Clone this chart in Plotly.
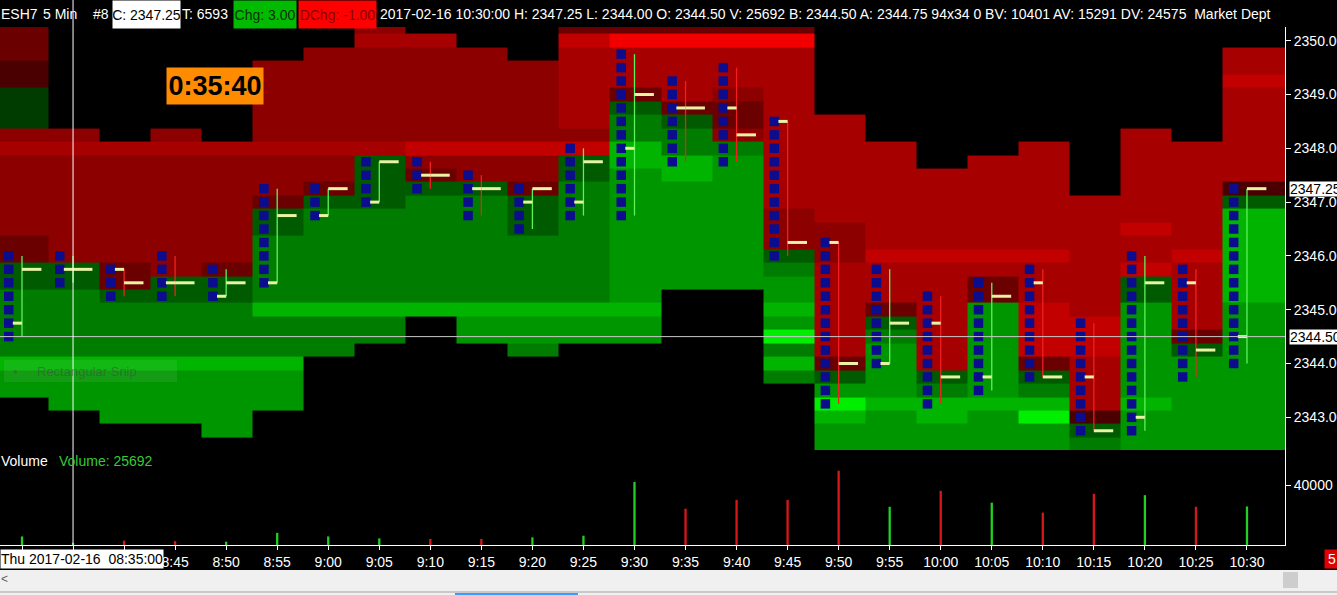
import plotly.graph_objects as go

# ---------------- data ----------------
times = ["8:30", "8:35", "8:40", "8:45", "8:50", "8:55", "9:00", "9:05", "9:10", "9:15",
         "9:20", "9:25", "9:30", "9:35", "9:40", "9:45", "9:50", "9:55", "10:00", "10:05",
         "10:10", "10:15", "10:20", "10:25", "10:30"]
opens = [2344.75, 2345.75, 2345.75, 2345.50, 2345.25, 2345.50, 2346.75, 2347.00, 2347.50, 2347.25,
         2347.00, 2347.00, 2348.00, 2348.75, 2348.75, 2348.50, 2346.25, 2344.00, 2344.75, 2343.75,
         2345.50, 2343.75, 2343.00, 2345.50, 2344.50]
highs = [2346.00, 2346.00, 2345.75, 2346.00, 2345.75, 2347.25, 2347.25, 2347.75, 2347.75, 2347.50,
         2347.25, 2348.00, 2349.75, 2349.25, 2349.50, 2348.50, 2346.25, 2345.75, 2345.25, 2345.50,
         2345.75, 2344.75, 2346.00, 2345.75, 2347.25]
lows = [2344.50, 2345.50, 2345.25, 2345.25, 2345.25, 2345.50, 2346.75, 2347.00, 2347.25, 2346.75,
        2346.50, 2346.75, 2346.75, 2347.75, 2347.75, 2346.00, 2343.25, 2344.00, 2343.25, 2343.50,
        2343.75, 2342.75, 2342.75, 2343.75, 2344.00]
closes = [2345.75, 2345.75, 2345.50, 2345.50, 2345.50, 2346.75, 2347.25, 2347.75, 2347.50, 2347.25,
          2347.25, 2347.75, 2349.00, 2348.75, 2348.25, 2346.25, 2344.00, 2344.75, 2343.75, 2345.25,
          2343.75, 2342.75, 2345.50, 2344.25, 2347.25]
bar_up = [1, 1, 0, 0, 1, 1, 1, 1, 0, 0, 1, 1, 1, 0, 0, 0, 0, 1, 0, 1, 0, 0, 1, 0, 1]
volumes = [5700, 1500, 2900, 2600, 2200, 8100, 5700, 4400, 4000, 4000, 5100, 6200, 42000,
           24200, 30100, 30100, 49500, 25500, 36100, 28200, 21600, 34100, 33200, 25500, 25692]

tick_size = 0.25
price_levels = [2350.25, 2350.00, 2349.75, 2349.50, 2349.25, 2349.00, 2348.75, 2348.50,
                2348.25, 2348.00, 2347.75, 2347.50, 2347.25, 2347.00, 2346.75, 2346.50,
                2346.25, 2346.00, 2345.75, 2345.50, 2345.25, 2345.00, 2344.75, 2344.50,
                2344.25, 2344.00, 2343.75, 2343.50, 2343.25, 2343.00, 2342.75, 2342.50]
price_ticks = [2343, 2344, 2345, 2346, 2347, 2348, 2349, 2350]
volume_ticks = [40000]

# market depth per bar, top price level -> bottom, as runs "code:count"
# '.' none, '1'..'6' ask depth (dark -> bright red), 'a'..'f' bid depth (dark -> bright green)
depth_runs = [
    "2:3 1:2 a:3 3:1 4:1 3:6 2:2 b:2 c:5 e:1 d:2 .:4",
    ".:8 3:1 4:1 3:8 b:2 c:5 e:1 d:3 .:3",
    ".:9 4:1 3:8 2:2 b:1 c:4 e:1 d:4 .:2",
    ".:8 3:1 4:1 3:9 b:2 c:4 e:1 d:4 .:2",
    ".:9 4:1 3:8 2:1 b:2 c:4 e:1 d:5 .:1",
    ".:3 3:6 4:1 3:3 2:1 b:2 c:5 e:1 c:3 e:1 d:3 .:3",
    ".:2 3:7 4:1 3:2 2:1 b:1 c:7 e:1 c:3 .:7",
    "3:1 4:1 3:7 4:1 b:4 c:7 e:1 c:2 .:8",
    ".:1 4:1 3:7 5:1 3:1 2:1 b:1 c:8 e:1 .:10",
    ".:2 3:7 5:1 3:2 b:1 c:8 e:1 d:2 .:8",
    ".:3 3:6 5:1 3:2 2:1 b:3 c:5 e:1 d:2 c:1 .:7",
    "2:1 5:1 4:6 3:1 5:1 b:2 c:9 e:1 d:2 .:8",
    "2:1 6:1 4:3 2:1 b:1 c:2 e:2 d:10 e:1 d:2 .:8",
    "2:1 6:1 4:4 2:1 b:1 c:2 e:2 d:8 .:12",
    "2:1 6:1 4:3 3:1 2:2 3:1 c:1 d:10 .:12",
    "2:1 6:1 4:12 3:3 b:1 c:1 d:2 e:1 d:1 f:1 c:1 e:1 c:1 .:5",
    ".:7 4:8 3:3 4:7 2:1 b:1 d:1 f:1 e:1 d:2",
    ".:9 4:8 5:1 4:3 2:1 b:1 c:1 d:4 e:1 d:3",
    ".:11 4:6 5:1 4:8 b:1 c:1 e:2 d:2",
    ".:10 4:7 5:1 4:1 2:2 d:7 e:1 d:3",
    ".:9 4:8 5:1 4:3 5:4 2:1 b:1 c:1 e:1 f:1 d:2",
    ".:13 4:9 5:3 4:4 1:1 b:1 c:1",
    ".:8 4:7 5:1 4:2 5:1 b:2 d:7 e:1 d:3",
    ".:9 4:8 5:1 4:5 2:1 b:1 d:7",
    ".:2 4:2 5:1 4:7 1:1 b:1 e:7 d:11",
]
depth_codes = [".", "1", "2", "3", "4", "5", "6", "a", "b", "c", "d", "e", "f"]
depth_colors = ["#000000", "#4a0000", "#6a0000", "#8c0000", "#a60000", "#c20000", "#f20000",
                "#003c00", "#005a00", "#007c00", "#009600", "#00b400", "#00ee00"]

crosshair_index = 1
crosshair_price = 2344.50
crosshair_label = "Thu 2017-02-16\u00a0 08:35:00"
last_price = 2347.25

header_text = ("2017-02-16 10:30:00 H: 2347.25 L: 2344.00 O: 2344.50 V: 25692 B: 2344.50 "
               "A: 2344.75 94x34 0 BV: 10401 AV: 15291 DV: 24575\u00a0 Market Dept")

# ---------------- geometry helpers (pixels of the 1337x595 page) ----------------
W, H = 1337, 595
PW, PH = 1285, 545          # plot area: x 0..1285, y 0..545
X0, X1 = -0.431, 24.745     # x range in bar units
def px(x):
    return x / PW
def py(y):
    return (PH - y) / PH

FONT = "Liberation Sans"
n = len(times)
idx = list(range(n))

# time labels that sit under the crosshair date box are covered by it
date_box_right = 164
def bar_px(i):
    return (i - X0) / (X1 - X0) * PW
tick_labels = [t if bar_px(i) - 10 > date_box_right else "" for i, t in enumerate(times)]

# ---------------- heatmap matrix ----------------
cols = []
for s in depth_runs:
    col = []
    for tok in s.split():
        c, k = tok.split(":")
        col += [c] * int(k)
    col = (col + ["."] * len(price_levels))[:len(price_levels)]
    cols.append(col)
z = [[depth_codes.index(cols[c][r]) for c in range(n)] for r in range(len(price_levels))]
nc = len(depth_codes)
cscale = []
for i, colr in enumerate(depth_colors):
    cscale.append([i / nc, colr])
    cscale.append([(i + 1) / nc, colr])
x_edges = [-0.48] + [i + 0.52 for i in range(n - 1)] + [X1]

fig = go.Figure()
fig.add_trace(go.Heatmap(z=z, x=x_edges, y=price_levels, colorscale=cscale,
                         zmin=-0.5, zmax=nc - 0.5, showscale=False, zsmooth=False,
                         hoverinfo="skip", xaxis="x", yaxis="y"))

# blue price-level markers for every traded tick of each bar
sq_x, sq_y = [], []
for i in idx:
    cnt = int(round((highs[i] - lows[i]) / tick_size)) + 1
    for j in range(cnt):
        sq_x.append(i - 0.26)
        sq_y.append(lows[i] + j * tick_size)
fig.add_trace(go.Scatter(x=sq_x, y=sq_y, mode="markers",
                         marker=dict(symbol="square", size=9.5, color="#0c0c8e", line=dict(width=0)),
                         hoverinfo="skip", xaxis="x", yaxis="y"))

# high-low lines
for up, colr in ((1, "#5cf25c"), (0, "#f02020")):
    lx, ly = [], []
    for i in idx:
        if bar_up[i] == up:
            lx += [i, i, None]
            ly += [lows[i], highs[i], None]
    fig.add_trace(go.Scatter(x=lx, y=ly, mode="lines", line=dict(color=colr, width=1.3),
                             hoverinfo="skip", xaxis="x", yaxis="y"))

# open (left) and close (right) ticks
tx, ty = [], []
for i in idx:
    tx += [i - 0.18, i, None, i, i + 0.38, None]
    ty += [opens[i], opens[i], None, closes[i], closes[i], None]
fig.add_trace(go.Scatter(x=tx, y=ty, mode="lines", line=dict(color="#e8f4a4", width=3),
                         hoverinfo="skip", xaxis="x", yaxis="y"))

# volume
fig.add_trace(go.Bar(x=idx, y=volumes, width=0.045,
                     marker=dict(color=["#22d022" if u else "#d81818" for u in bar_up], line=dict(width=0)),
                     hoverinfo="skip", xaxis="x", yaxis="y2"))

axfont = dict(color="white", size=14, family=FONT)
fig.update_layout(
    width=W, height=H, autosize=False,
    margin=dict(l=0, r=W - PW, t=0, b=H - PH, pad=0),
    paper_bgcolor="black", plot_bgcolor="black", showlegend=False,
    xaxis=dict(domain=[0, 1], range=[X0, X1], anchor="y2", tickmode="array",
               tickvals=idx, ticktext=tick_labels, ticks="outside", ticklen=4, tickcolor="white",
               showline=True, linecolor="white", linewidth=1, tickfont=axfont,
               showgrid=False, zeroline=False, automargin=False),
    yaxis=dict(domain=[py(450), py(27)], range=[2342.392, 2350.255], side="right", anchor="x",
               tickmode="array", tickvals=price_ticks, ticktext=["%.2f" % v for v in price_ticks],
               ticks="outside", ticklen=5, tickcolor="white", showline=True, linecolor="white",
               tickfont=axfont, showgrid=False, zeroline=False, automargin=False),
    yaxis2=dict(domain=[0, py(450)], range=[0, 63333], side="right", anchor="x",
                tickmode="array", tickvals=volume_ticks, ticktext=[str(v) for v in volume_ticks],
                ticks="outside", ticklen=5, tickcolor="white", showline=True, linecolor="white",
                tickfont=axfont, showgrid=False, zeroline=False, automargin=False),
)

shapes = [
    # crosshair
    dict(type="line", xref="paper", yref="y", x0=0, x1=1, y0=crosshair_price, y1=crosshair_price,
         line=dict(color="#c8c8c8", width=1)),
    dict(type="line", xref="x", yref="paper", x0=crosshair_index, x1=crosshair_index, y0=0, y1=1,
         line=dict(color="white", width=1)),
    # "Rectangular Snip" ghost box
    dict(type="rect", xref="paper", yref="paper", x0=px(4), x1=px(177), y0=py(382), y1=py(360),
         fillcolor="rgba(200,230,200,0.10)", line=dict(width=0)),
    # bottom scroll strip
    dict(type="rect", xref="paper", yref="paper", x0=0, x1=W / PW, y0=py(H), y1=py(570),
         fillcolor="#f0f0f0", line=dict(width=0), layer="above"),
    dict(type="rect", xref="paper", yref="paper", x0=px(1283), x1=px(1298), y0=py(588), y1=py(572),
         fillcolor="#cdcdcd", line=dict(width=0)),
    dict(type="line", xref="paper", yref="paper", x0=0, x1=W / PW, y0=py(592), y1=py(592),
         line=dict(color="#a0a0a0", width=1)),
    dict(type="rect", xref="paper", yref="paper", x0=px(455), x1=px(578), y0=py(595), y1=py(593),
         fillcolor="#3c9bff", line=dict(width=0)),
]
fig.update_layout(shapes=shapes)

ann = []
def label(text, x, y, color="white", size=14, bg=None, xanchor="left", w=None, h=None,
          yref="paper", bold=False):
    d = dict(text=("<b>%s</b>" % text) if bold else text, x=px(x), y=y, xref="paper", yref=yref,
             xanchor=xanchor, yanchor="middle", showarrow=False,
             font=dict(color=color, size=size, family=FONT), borderpad=0)
    if bg:
        d["bgcolor"] = bg
    if w:
        d["width"] = w
    if h:
        d["height"] = h
    ann.append(d)

# header line
hy = py(14)
label("ESH7", 0, hy)
label("5 Min", 42, hy)
label("#8", 92, hy)
label("C: 2347.25", 112, hy, color="black", bg="white", w=67, h=27)
label("T: 6593", 181, hy)
label("Chg: 3.00", 233, hy, color="#0a300a", bg="#00bb00", w=62, h=27)
label("DChg: -1.00", 298, hy, color="#8a0000", bg="#ff0000", w=77, h=27)
label(header_text, 379, hy)

# timer box
label("0:35:40", 215, py(86), color="black", size=27, bg="#ff8c00", xanchor="center",
      w=96, h=36, bold=True)
# ghost snip text
label("\u25cf", 12, py(371), color="rgba(60,90,60,0.55)", size=8)
label("Rectangular Snip", 36, py(371), color="rgba(60,80,60,0.55)", size=13)
# volume pane title
label("Volume", 0, py(461))
label("Volume: %d" % volumes[-1], 58, py(461), color="#33cc33")
# price labels on the right axis
label("%.2f" % last_price, 1289, last_price, color="black", bg="white", h=14, yref="y")
label("%.2f" % crosshair_price, 1289, crosshair_price, color="black", bg="white", h=14, yref="y")
# crosshair date box
label(crosshair_label, date_box_right, py(559), color="black", bg="white", xanchor="right", h=18)
# right-bottom red box
label("5", 1324, py(559), color="white", bg="#e00000", h=18, w=14)
# scroll arrow
label("<", 0, py(579), color="#606060", size=12)

fig.update_layout(annotations=ann)
fig.write_html("out.html", config={"displayModeBar": False},
               post_script="document.body.style.margin='0';document.body.style.overflow='hidden';")
